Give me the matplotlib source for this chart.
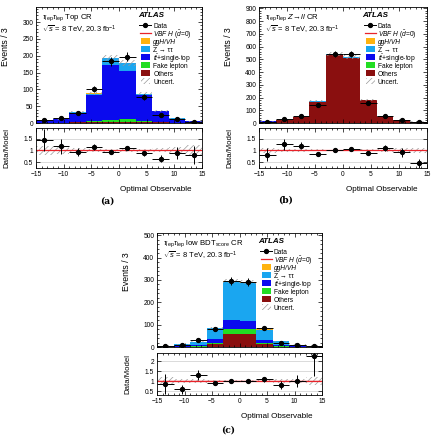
import numpy as np
import matplotlib
matplotlib.use('Agg')
import matplotlib.pyplot as plt
from matplotlib.patches import Rectangle
from matplotlib.ticker import MultipleLocator, FormatStrFormatter

plt.rcParams['font.family'] = ['Liberation Sans', 'DejaVu Sans']
plt.rcParams['mathtext.fontset'] = 'custom'
plt.rcParams['mathtext.rm'] = 'Liberation Sans'
plt.rcParams['mathtext.it'] = 'Liberation Sans:italic'
plt.rcParams['hatch.linewidth'] = 0.5

# colours
c_ggh = '#ffb30f'
c_ztt = '#1aa6f0'
c_top = '#0a0aee'
c_fake = '#22dd22'
c_oth = '#8a0f0f'
c_vbf = '#e8232a'
c_unc = '#999999'

edges = np.arange(-15, 16, 3)
centers = edges[:-1] + 1.5

# (a) Top CR
top_data = [10, 14, 30, 101, 183, 197, 77, 24, 12, 4]
top_others = [0.5, 0.8, 1.5, 3, 4, 4, 3, 1.5, 0.8, 0.4]
top_fake = [0.5, 0.6, 1, 2, 4, 7, 2, 1, 0.5, 0.3]
top_ttbar = [5.5, 9.8, 27.8, 79, 165, 145, 78.5, 32.4, 11.7, 4]
top_ztt = [0.4, 0.6, 1.8, 3.6, 19.3, 22.7, 3.8, 1.8, 0.5, 0.3]
top_ggh = [0, 0.1, 0.2, 0.2, 0.3, 0.3, 0.2, 0.2, 0.1, 0]
top_unc = [0.2, 0.15, 0.08, 0.05, 0.05, 0.05, 0.05, 0.08, 0.15, 0.22]

# (b) Z->ll CR
zll_data = [10, 30, 58, 145, 545, 540, 160, 58, 22, 5]
zll_others = [11.5, 23, 46.7, 166.5, 529.9, 509.5, 177.7, 51.1, 22.9, 10.4]
zll_fake = [0.2, 0.3, 0.4, 0.8, 1.5, 1.5, 0.8, 0.4, 0.3, 0.2]
zll_ttbar = [0.3, 0.4, 0.6, 1.2, 2, 2, 1.2, 0.6, 0.4, 0.3]
zll_ztt = [0.2, 0.3, 0.6, 2, 6, 6, 2, 0.6, 0.3, 0.2]
zll_ggh = [0, 0, 0, 0.1, 0.2, 0.2, 0.1, 0, 0, 0]
zll_unc = [0.1, 0.06, 0.05, 0.04, 0.03, 0.03, 0.04, 0.05, 0.08, 0.1]

# (c) low BDT_score CR
bdt_data = [3, 7, 32, 80, 295, 290, 85, 20, 10, 5]
bdt_others = [0.3, 0.8, 2, 15, 60, 58, 12, 2, 0.8, 0.3]
bdt_fake = [0.2, 0.6, 1.5, 4, 22, 24, 4, 1.5, 0.5, 0.2]
bdt_ttbar = [0.5, 2, 6, 17, 38, 33, 16, 5, 2, 0.5]
bdt_ztt = [2.45, 8.2, 14.8, 49.5, 171, 171, 45.2, 16.2, 6.6, 1.15]
bdt_ggh = [0.05, 0.1, 0.3, 1.5, 4, 4, 1.5, 0.3, 0.1, 0.05]
bdt_unc = [0.2, 0.12, 0.08, 0.05, 0.03, 0.03, 0.05, 0.08, 0.12, 0.2]

leg_labels = ['Data', r'$VBF\ H$ ($\tilde{d}$=0)', 'ggH/VH', 'Z → ττ',
              r'$t\bar{t}$+single-top', 'Fake lepton', 'Others', 'Uncert.']
leg_italic = [False, False, True, False, False, False, False, False]

W, H = 437, 438
fig = plt.figure(figsize=(W / 100, H / 100), dpi=100)


def px_axes(x0, y0, x1, y1):
    return fig.add_axes([x0 / W, 1 - y1 / H, (x1 - x0) / W, (y1 - y0) / H])


def style(ax, major, minor):
    ax.tick_params(which='both', direction='in', top=True, right=True, labelsize=4.8, pad=2)
    ax.tick_params(which='major', length=3, width=0.5)
    ax.tick_params(which='minor', length=1.6, width=0.5)
    ax.xaxis.set_major_locator(MultipleLocator(5))
    ax.xaxis.set_minor_locator(MultipleLocator(1))
    ax.yaxis.set_major_locator(MultipleLocator(major))
    ax.yaxis.set_minor_locator(MultipleLocator(minor))
    for s in ax.spines.values():
        s.set_linewidth(0.6)


def legend(ax, wpx, hpx, xoff, yoff):
    # hand-placed legend with tight row spacing like the original
    dy = 8.0
    fx = lambda p: p / wpx
    fy = lambda p: 1 - p / hpx
    kinds = ['data', 'line', c_ggh, c_ztt, c_top, c_fake, c_oth, 'unc']
    for i, (kind, lab) in enumerate(zip(kinds, leg_labels)):
        yc = yoff + i * dy
        if kind == 'data':
            ax.plot([fx(xoff - 2), fx(xoff + 10)], [fy(yc), fy(yc)], color='k', lw=0.7,
                    transform=ax.transAxes)
            ax.plot([fx(xoff + 4)], [fy(yc)], 'o', color='k', ms=2.8, transform=ax.transAxes)
        elif kind == 'line':
            ax.plot([fx(xoff - 1), fx(xoff + 10)], [fy(yc), fy(yc)], color=c_vbf, lw=0.9,
                    transform=ax.transAxes)
        elif kind == 'unc':
            ax.add_patch(Rectangle((fx(xoff), fy(yc + 2.7)), 9 / wpx, 5.4 / hpx, fill=False,
                                   hatch='//////', edgecolor=c_unc, lw=0, transform=ax.transAxes))
        else:
            ax.add_patch(Rectangle((fx(xoff), fy(yc + 2.7)), 9 / wpx, 5.4 / hpx, color=kind,
                                   lw=0, transform=ax.transAxes))
        ax.text(fx(xoff + 12), fy(yc), lab, transform=ax.transAxes, fontsize=4.8,
                va='center_baseline', ha='left',
                fontstyle='italic' if leg_italic[i] else 'normal')


def panel(box, rbox, comps, data, unc, ymax, ymaj, ymin, rlim, title, label, lab_xy):
    ax = px_axes(*box)
    rx = px_axes(*rbox)
    wpx = box[2] - box[0]
    hpx = box[3] - box[1]
    others, fake, ttbar, ztt, ggh = [np.array(c, float) for c in comps]
    data = np.array(data, float)
    unc = np.array(unc)
    bottom = np.zeros(10)
    for vals, col in [(others, c_oth), (fake, c_fake), (ttbar, c_top), (ztt, c_ztt), (ggh, c_ggh)]:
        ax.bar(centers, vals, width=3, bottom=bottom, color=col, linewidth=0)
        bottom = bottom + vals
    total = bottom
    ax.bar(centers, 2 * unc * total, width=3, bottom=total * (1 - unc), fill=False,
           hatch='//////', edgecolor=c_unc, linewidth=0)
    ax.errorbar(centers, data, xerr=1.5, yerr=np.sqrt(data), fmt='o', color='k',
                ms=2.8, elinewidth=0.7, capsize=0)
    ax.set_xlim(-15, 15)
    ax.set_ylim(0, ymax)
    style(ax, ymaj, ymin)
    ax.tick_params(labelbottom=False)
    ax.set_ylabel('Events / 3', fontsize=6.3)
    ax.yaxis.set_label_coords(-26 / wpx, 0.66)
    ax.text(6 / wpx, 1 - 5 / hpx, title, transform=ax.transAxes, fontsize=5.6, va='top')
    ax.text(6 / wpx, 1 - 17 / hpx, r'$\sqrt{s}$ = 8 TeV, 20.3 fb$^{-1}$', transform=ax.transAxes,
            fontsize=5.4, va='top')
    ax.text(0.615, 1 - 5 / hpx, 'ATLAS', transform=ax.transAxes, fontsize=5.8, va='top',
            fontweight='bold', fontstyle='italic')
    legend(ax, wpx, hpx, 0.635 * wpx, 18)

    ratio = data / total
    rerr = np.sqrt(data) / total
    rx.bar(centers, 2 * unc, width=3, bottom=1 - unc, fill=False, hatch='//////',
           edgecolor=c_unc, linewidth=0)
    rx.axhline(1.0, color=c_vbf, lw=0.9)
    rx.axhspan(0.97, 1.03, color=c_vbf, alpha=0.15, lw=0)
    for g in np.arange(0.5, rlim[1], 0.5):
        rx.axhline(g, color='#cccccc', lw=0.5, zorder=0)
    rx.errorbar(centers, ratio, xerr=1.5, yerr=rerr, fmt='o', color='k', ms=2.8,
                elinewidth=0.7, capsize=0)
    rx.set_xlim(-15, 15)
    rx.set_ylim(*rlim)
    style(rx, 0.5, 0.5)
    rx.yaxis.set_major_formatter(FormatStrFormatter('%g'))
    rx.set_ylabel('Data/Model', fontsize=5.6)
    rx.yaxis.set_label_coords(-26 / wpx, 0.5)
    rx.set_xlabel('Optimal Observable', fontsize=5.9, x=1 - 10 / wpx, ha='right', labelpad=6)
    fig.text(lab_xy[0] / W, 1 - lab_xy[1] / H, label, fontsize=6.6, fontweight='bold',
             family='DejaVu Serif', ha='center', va='center')


panel((36, 7, 202, 123), (36, 128, 202, 168),
      [top_others, top_fake, top_ttbar, top_ztt, top_ggh], top_data, top_unc,
      345, 50, 10, (0.25, 1.95), r'$\tau_{\rm lep}\tau_{\rm lep}$ Top CR', '(a)', (107, 201))
panel((259, 7, 427, 123), (259, 128, 427, 168),
      [zll_others, zll_fake, zll_ttbar, zll_ztt, zll_ggh], zll_data, zll_unc,
      910, 100, 20, (0.25, 1.95), r'$\tau_{\rm lep}\tau_{\rm lep}$ $Z\!\rightarrow\!ll$ CR', '(b)', (286, 200))
panel((157, 233, 322, 347), (157, 353, 322, 395),
      [bdt_others, bdt_fake, bdt_ttbar, bdt_ztt, bdt_ggh], bdt_data, bdt_unc,
      510, 100, 20, (0.3, 2.4), r'$\tau_{\rm lep}\tau_{\rm lep}$ low BDT$_{\rm score}$ CR', '(c)', (228, 430))

fig.savefig('out.png', dpi=100)
